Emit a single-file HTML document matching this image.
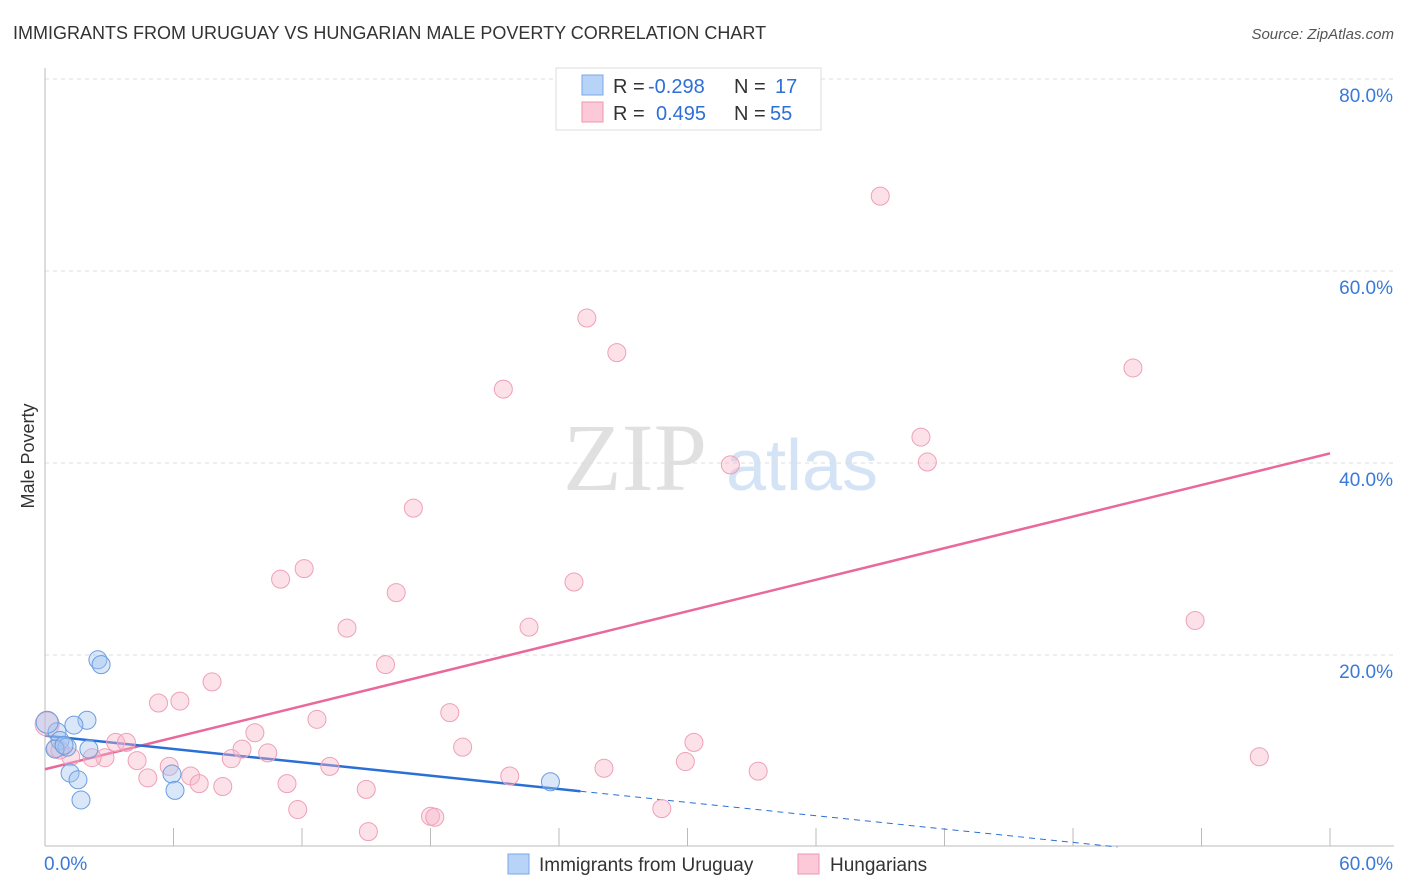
<!DOCTYPE html>
<html><head><meta charset="utf-8"><style>
body{margin:0;background:#fff;font-family:"Liberation Sans",sans-serif;}
svg{display:block}
</style></head><body>
<svg id="chart" width="1406" height="892" xmlns="http://www.w3.org/2000/svg">
<text x="13" y="39" font-size="18" fill="#333">IMMIGRANTS FROM URUGUAY VS HUNGARIAN MALE POVERTY CORRELATION CHART</text>
<text x="1394" y="39" font-size="15" fill="#555" text-anchor="end" font-style="italic">Source: ZipAtlas.com</text>
<text transform="translate(34,456) rotate(-90)" font-size="18" fill="#333" text-anchor="middle">Male Poverty</text>
<g>
<text x="635" y="490" font-size="96" fill="#e0e0e0" text-anchor="middle" font-family="Liberation Serif, serif">ZIP</text>
<text x="802" y="490" font-size="72" fill="#d4e3f5" text-anchor="middle">atlas</text>
</g>
<g id="grid"></g><g id="ticks"></g>
<g id="lines"></g><g id="pts"></g>
<g>
<rect x="556" y="68" width="265" height="62" fill="#fff" stroke="#ddd"/>
<rect x="582" y="75" width="21" height="20" fill="#b7d3f7" stroke="#7aa7e6"/>
<rect x="582" y="102" width="21" height="20" fill="#fbc9d8" stroke="#ef95b2"/>
<text x="613" y="93" font-size="20" fill="#333">R =</text>
<text x="648" y="93" font-size="20" fill="#2d6fd6">-0.298</text>
<text x="734" y="93" font-size="20" fill="#333">N =</text>
<text x="775" y="93" font-size="20" fill="#2d6fd6">17</text>
<text x="613" y="120" font-size="20" fill="#333">R =</text>
<text x="656" y="120" font-size="20" fill="#2d6fd6">0.495</text>
<text x="734" y="120" font-size="20" fill="#333">N =</text>
<text x="770" y="120" font-size="20" fill="#2d6fd6">55</text>
</g>
<g>
<rect x="508" y="854" width="21" height="20" fill="#b7d3f7" stroke="#7aa7e6"/>
<text x="539" y="871" font-size="19" fill="#333">Immigrants from Uruguay</text>
<rect x="798" y="854" width="21" height="20" fill="#fbc9d8" stroke="#ef95b2"/>
<text x="830" y="871" font-size="19" fill="#333">Hungarians</text>
</g>
</svg>
<script>
const xTicks=[0,6,12,18,24,30,36,42,48,54,60];
const yTicks=[20,40,60,80];
const yTickLabels=["20.0%","40.0%","60.0%","80.0%"];
const xTickLabels=["0.0%","60.0%"];
const blueX=[2.47,2.62,1.96,1.35,0.56,0.1,0.7,1.03,0.47,2.05,1.17,1.54,1.68,5.93,6.07,23.6,0.89];
const blueY=[19.5,19.0,13.2,12.7,12.0,13.0,11.1,10.4,10.2,10.2,7.7,7.0,4.9,7.6,5.9,6.8,10.6];
const pinkX=[39.0,25.3,26.7,21.4,50.8,40.9,41.2,32.0,17.2,12.1,11.0,24.7,16.4,14.1,22.6,53.7,15.9,7.8,6.3,5.3,18.9,12.7,9.8,30.3,19.5,9.2,10.4,3.3,3.8,56.7,4.3,2.8,2.2,1.2,0.5,8.7,5.8,29.9,26.1,13.3,33.3,21.7,6.8,4.8,7.2,8.3,11.3,15.0,11.8,28.8,18.0,18.2,15.1,0.1,0.7];
const pinkY=[67.8,55.1,51.5,47.7,49.9,42.7,40.1,39.8,35.3,29.0,27.9,27.6,26.5,22.8,22.9,23.6,19.0,17.2,15.2,15.0,14.0,13.3,11.9,10.9,10.4,10.2,9.8,10.9,10.9,9.4,9.0,9.3,9.3,9.4,10.3,9.2,8.4,8.9,8.2,8.4,7.9,7.4,7.4,7.2,6.6,6.3,6.6,6.0,3.9,4.0,3.2,3.1,1.6,12.8,10.1];
const pinkTrend=[8.1,41.0];
const blueTrend=[11.6,-2.3];
const blueSolidEnd=25;
const NS="http://www.w3.org/2000/svg";
const X=v=>45+v/60*1285, Y=v=>847-v/80*768;
function mk(p,t,a){const e=document.createElementNS(NS,t);for(const k in a)e.setAttribute(k,a[k]);p.appendChild(e);return e;}
const grid=document.getElementById('grid'),ticks=document.getElementById('ticks'),lines=document.getElementById('lines'),pts=document.getElementById('pts');
yTicks.forEach((t,i)=>{
 const l=mk(grid,'line',{x1:45,x2:1394,y1:Y(t),y2:Y(t),stroke:'#ddd','stroke-dasharray':'4,4'});
 
 
 const tx=mk(grid,'text',{x:1393,y:Y(t)+23,'font-size':19,fill:'#3b78d8','text-anchor':'end'});
 tx.textContent=yTickLabels[i];
 
 
});
const ax=mk(ticks,'line',{x1:45,x2:1394,y1:846,y2:846,stroke:'#bbb'});


const ay=mk(ticks,'line',{x1:45,x2:45,y1:68,y2:846,stroke:'#bbb'});


xTicks.forEach(t=>{
 const l=mk(ticks,'line',{x1:X(t),x2:X(t),y1:828,y2:846,stroke:'#bbb'});
 
 
});
const xl0=mk(ticks,'text',{x:44,y:870,'font-size':19,fill:'#3b78d8'});xl0.textContent=xTickLabels[0];


const xl1=mk(ticks,'text',{x:1393,y:870,'font-size':19,fill:'#3b78d8','text-anchor':'end'});xl1.textContent=xTickLabels[1];


pinkX.forEach((x,i)=>{
 const c=mk(pts,'circle',{cx:X(x),cy:Y(pinkY[i]),r:(i==53?12:9),fill:'rgba(248,180,200,0.4)',stroke:'#eea0b8','stroke-width':1});
 
 
});
blueX.forEach((x,i)=>{
 const c=mk(pts,'circle',{cx:X(x),cy:Y(blueY[i]),r:(i==5?11:9),fill:'rgba(160,196,240,0.4)',stroke:'#6a9de0','stroke-width':1});
 
 
});
const bAt=x=>blueTrend[0]+(blueTrend[1]-blueTrend[0])*x/60;
const pl=mk(lines,'line',{x1:X(0),y1:Y(pinkTrend[0]),x2:X(60),y2:Y(pinkTrend[1]),stroke:'#e8699a','stroke-width':2.5});


const bl=mk(lines,'line',{x1:X(0),y1:Y(bAt(0)),x2:X(blueSolidEnd),y2:Y(bAt(blueSolidEnd)),stroke:'#2a6fd6','stroke-width':2.5});


const xEnd=blueTrend[0]/(blueTrend[0]-blueTrend[1])*60;
const bd=mk(lines,'line',{x1:X(blueSolidEnd),y1:Y(bAt(blueSolidEnd)),x2:X(xEnd),y2:Y(0),stroke:'#2a6fd6','stroke-width':1,'stroke-dasharray':'6,5'});


</script>
</body></html>
